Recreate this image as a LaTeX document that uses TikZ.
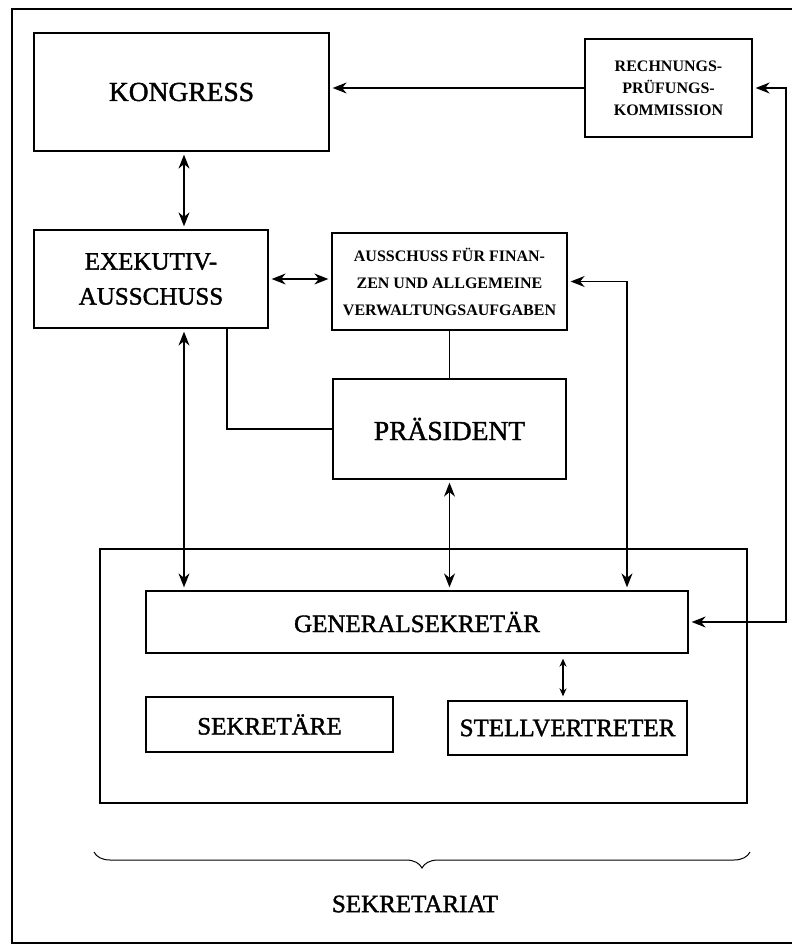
\documentclass[tikz,border=0pt]{standalone}
\usepackage{fontspec}
\setmainfont{Liberation Serif}
\newfontfamily\heavyserif{Liberation Serif}[FakeBold=1.5]
\usetikzlibrary{arrows.meta,positioning,decorations.pathreplacing,calc}

\begin{document}
\begin{tikzpicture}[x=1pt,y=-1pt,
    box/.style={draw,line width=1.3pt,inner sep=0pt,align=center},
    bigtext/.style={font=\heavyserif\fontsize{25}{35}\selectfont},
    hugetext/.style={font=\heavyserif\fontsize{27.5}{35}\selectfont},
    smalltext/.style={font=\bfseries\fontsize{16}{22}\selectfont},
    link/.style={line width=1.3pt,shorten <=3pt,shorten >=3pt},
    smalltip/.style={>={Stealth[length=8pt,width=7pt]}},
    >={Stealth[length=14pt,width=11pt]}]
       \useasboundingbox (0,0) rectangle (793,949);
       \draw[line width=1.3pt] (792,9) -- (12,9) -- (12,943) -- (792,943);
       \coordinate (lx) at (184,0);
       \coordinate (ex) at (227,0);
       \coordinate (ax) at (627,0);
       \coordinate (rx) at (786,0);
       \node[box,hugetext,minimum width=295pt,minimum height=118pt] (kongress) at (181.5,92) {KONGRESS};
       \node[box,smalltext,minimum width=167pt,minimum height=98pt] (rpk) at (668.5,88) {RECHNUNGS-\\PRÜFUNGS-\\KOMMISSION};
       \node[box,bigtext,minimum width=234pt,minimum height=98pt] (exek) at (151,279) {EXEKUTIV-\\AUSSCHUSS};
       \node[box,smalltext,minimum width=235pt,minimum height=97pt,font=\bfseries\fontsize{16}{27}\selectfont] (afv) at (449.5,281.5) {AUSSCHUSS FÜR FINAN-\\ZEN UND ALLGEMEINE\\VERWALTUNGSAUFGABEN};
       \node[box,hugetext,minimum width=233pt,minimum height=100pt] (praes) at (449.5,429) {PRÄSIDENT};
       \node[box,minimum width=647pt,minimum height=254pt] (sekretariat) at (423.5,676) {};
       \node[box,bigtext,minimum width=542pt,minimum height=62pt] (gen) at (417,622) {GENERALSEKRETÄR};
       \node[box,bigtext,minimum width=247pt,minimum height=55pt] (sek) at (269.5,724.5) {SEKRETÄRE};
       \node[box,bigtext,minimum width=239pt,minimum height=54pt] (stv) at (567.5,728) {STELLVERTRETER};
       \coordinate (bl) at (94,852);
       \coordinate (br) at (750,852);
       \draw[line width=1pt,decorate,decoration={brace,mirror,amplitude=16pt}] (bl) -- (br);
       \node[bigtext] (label) at (415,904) {SEKRETARIAT};
       \draw[link,<->] (kongress.south -| lx) -- (exek.north -| lx);
       \draw[link,->,shorten <=0pt] (rpk.west) -- (rpk.west -| kongress.east);
       \draw[link,<->] (rpk.east) -- (rpk.east -| rx) -- (gen.east -| rx) -- (gen.east);
       \draw[link,<->] (exek.east) -- (exek.east -| afv.west);
       \draw[link,<->] (afv.east) -| (ax |- gen.north);
       \draw[line width=1.3pt] (afv.south) -- (praes.north);
       \draw[line width=1.3pt] (exek.south -| ex) |- (praes.west);
       \draw[link,<->] (exek.south -| lx) -- (gen.north -| lx);
       \draw[link,<->] (praes.south) -- (praes.south |- gen.north);
       \draw[link,smalltip,<->,shorten <=5pt,shorten >=4pt] (gen.south -| 563,0) -- (stv.north -| 563,0);
     \end{tikzpicture}
\end{document}
